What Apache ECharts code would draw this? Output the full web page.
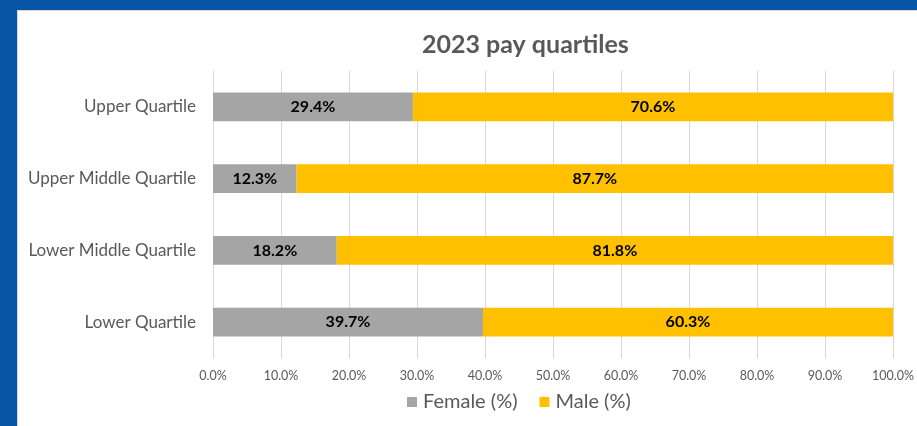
<!DOCTYPE html>
<html><head><meta charset="utf-8">
<script src="https://cdn.jsdelivr.net/npm/echarts@6/dist/echarts.min.js"></script>
<style>
html,body{margin:0;padding:0;width:917px;height:426px;overflow:hidden;background:#0756A5;}
#c{position:absolute;left:17px;top:10px;width:900px;height:416px;background:#fff;border-top:1px solid #d9d9d9;border-left:1px solid #d9d9d9;box-sizing:border-box;}
</style></head><body>
<div id="c"></div>
<script>
const categories = ['Lower Quartile','Lower Middle Quartile','Upper Middle Quartile','Upper Quartile'];
const female = [39.7, 18.2, 12.3, 29.4];
const male = [60.3, 81.8, 87.7, 70.6];
const seriesNames = ['Female (%)','Male (%)'];
const titleText = '2023 pay quartiles';

const chart = echarts.init(document.getElementById('c'), null, {renderer:'canvas'});
const FONT = 'Lato';
const labelCfg = {show:true, position:'inside', color:'#000', fontWeight:'bold', fontSize:16, fontFamily:FONT,
  formatter: p => p.value.toFixed(1) + '%'};
chart.setOption({
  animation:false,
  title:{text:titleText, left:399, top:16, textStyle:{fontFamily:FONT, fontSize:25, fontWeight:'bold', color:'#595959'}},
  legend:{bottom:9, left:384, itemWidth:10, itemHeight:10, itemGap:22, icon:'rect',
    textStyle:{fontFamily:FONT, fontSize:20, color:'#595959', padding:[0,0,0,1]}, data:seriesNames},
  grid:{left:195, right:21, top:60, bottom:68, containLabel:false},
  xAxis:{type:'value', min:0, max:100, interval:10,
    axisLabel:{formatter: v => v.toFixed(1)+'%', color:'#595959', fontFamily:FONT, fontSize:12.5, margin:11},
    splitLine:{show:true, lineStyle:{color:'#d9d9d9', width:1}},
    axisLine:{show:false}, axisTick:{show:false}},
  yAxis:{type:'category', data:categories,
    axisLabel:{color:'#595959', fontFamily:FONT, fontSize:17, margin:17},
    axisLine:{show:true, lineStyle:{color:'#d9d9d9'}}, axisTick:{show:false}},
  series:[
    {name:seriesNames[0], type:'bar', stack:'t', data:female, barWidth:'40%', itemStyle:{color:'#A5A5A5'}, label:labelCfg},
    {name:seriesNames[1], type:'bar', stack:'t', data:male, barWidth:'40%', itemStyle:{color:'#FFC000'}, label:labelCfg}
  ]
});
</script></body></html>
